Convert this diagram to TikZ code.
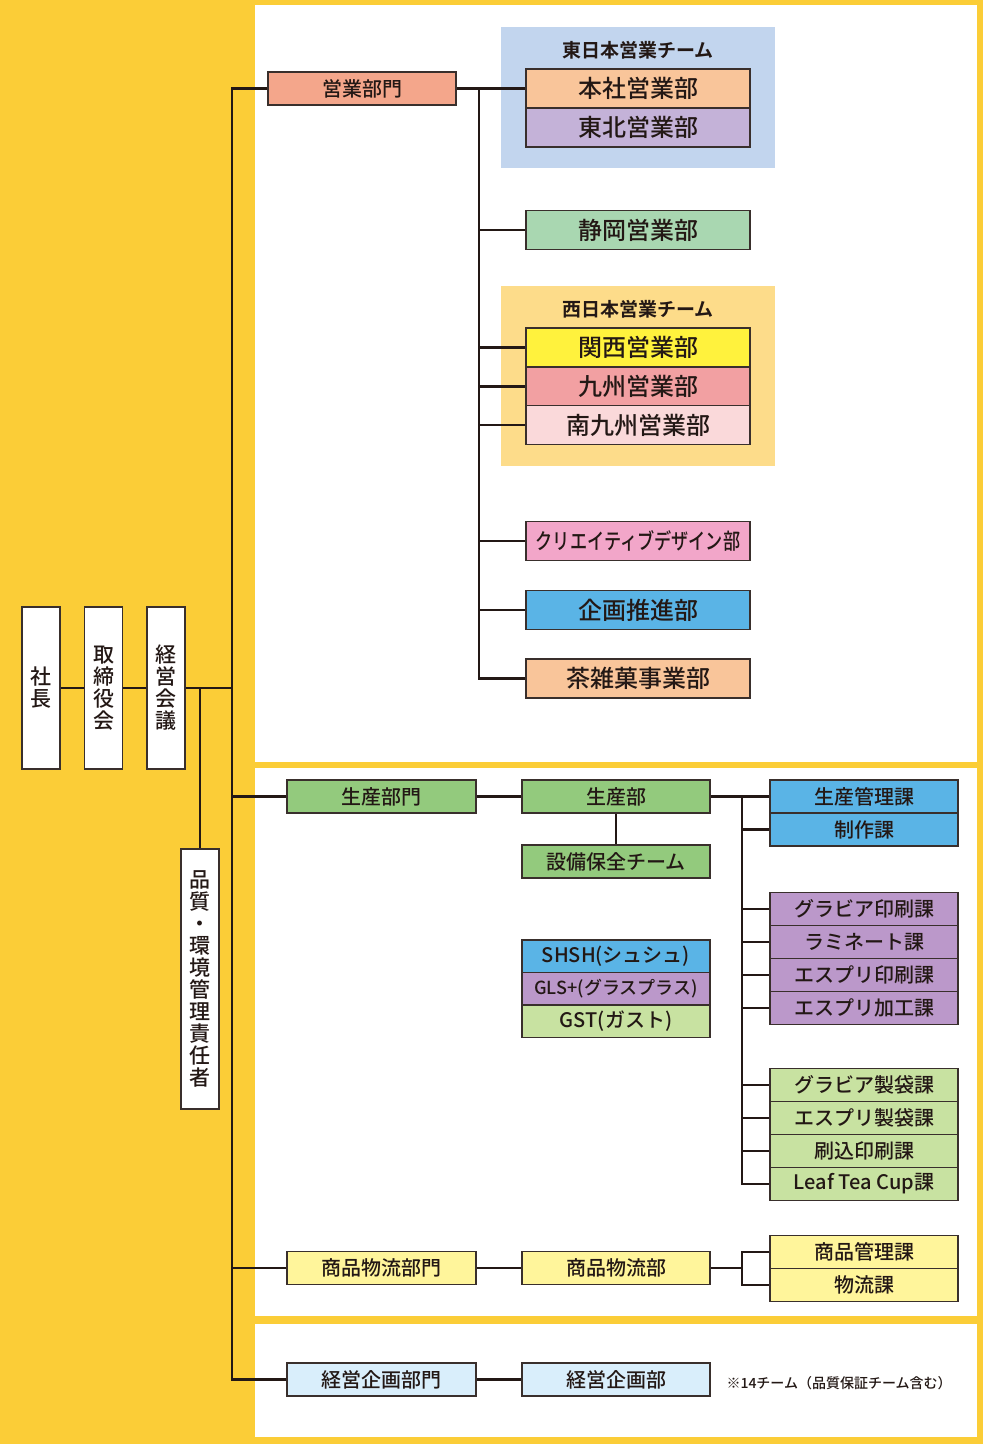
\documentclass[tikz,border=0pt]{standalone}
\usepackage{fontspec}
\setmainfont{Noto Sans CJK JP}[UprightFont={* Medium}, BoldFont={* Bold}]
\usepackage{graphicx}
\usetikzlibrary{calc}

\definecolor{bgyellow}{HTML}{FBCD37}
\definecolor{salmon}{HTML}{F4A68B}
\definecolor{peach}{HTML}{F9C59A}
\definecolor{lavender}{HTML}{C4B2D8}
\definecolor{eastbg}{HTML}{C2D5EE}
\definecolor{westbg}{HTML}{FDDC8A}
\definecolor{mint}{HTML}{A9D7B1}
\definecolor{lemon}{HTML}{FFF23D}
\definecolor{rose}{HTML}{F2A0A2}
\definecolor{palerose}{HTML}{FAD9DA}
\definecolor{pink}{HTML}{F2A6C9}
\definecolor{sky}{HTML}{5AB4E6}
\definecolor{leaf}{HTML}{93CA7D}
\definecolor{purple}{HTML}{BB98CA}
\definecolor{lightleaf}{HTML}{C8E2A1}
\definecolor{paleyellow}{HTML}{FFF59B}
\definecolor{paleblue}{HTML}{D9EEFB}
\definecolor{ink}{HTML}{231815}

\begin{document}
\begin{tikzpicture}[x=1pt,y=-1pt,
	box/.style={draw=ink!90, line width=1.5pt, inner sep=0pt, text=ink,
		minimum width=188, minimum height=33, font=\fontsize{20}{22}\selectfont},
	bigbox/.style={box, minimum width=224, minimum height=39, font=\fontsize{24}{26}\selectfont},
	tate/.style={box, fill=white, minimum width=38, align=center, font=\fontsize{21}{22}\selectfont},
	teamtitle/.style={font=\bfseries\fontsize{19}{21}\selectfont, text=ink},
	link/.style={draw=ink, line width=2.2pt}]
	\useasboundingbox (0,0) rectangle (983,1444);
	\fill[bgyellow] (0,0) rectangle (983,1444);
	\fill[white] (255,5) rectangle (977,762);
	\fill[white] (255,768) rectangle (977,1316);
	\fill[white] (255,1324) rectangle (977,1437);
	\fill[eastbg] (501,27) rectangle (775,168);
	\fill[westbg] (501,286) rectangle (775,466);
	\coordinate (tr) at (232,0);
	\coordinate (sb) at (479,0);
	\coordinate (pb) at (742,0);

	% left column
	\node[tate, minimum height=162] (shacho) at (41,688) {社\\長};
	\node[tate, minimum height=162] (torishimari) at (103.5,688) {取\\締\\役\\会};
	\node[tate, minimum height=162] (keiei) at (166,688) {経\\営\\会\\議};
	\node[tate, minimum height=260] (hinshitsu) at (200,979) {品\\質\\・\\環\\境\\管\\理\\責\\任\\者};

	% sales
	\node[box, fill=salmon] (eigyo) at (362,88.5) {営業部門};
	\node[teamtitle] (easttitle) at (638,50) {東日本営業チーム};
	\node[bigbox, fill=peach] (honsha) at (638,88.5) {本社営業部};
	\node[bigbox, fill=lavender] (tohoku) at (638,127.5) {東北営業部};
	\node[bigbox, fill=mint] (shizuoka) at (638,230) {静岡営業部};
	\node[teamtitle] (westtitle) at (638,309) {西日本営業チーム};
	\node[bigbox, fill=lemon] (kansai) at (638,347.5) {関西営業部};
	\node[bigbox, fill=rose] (kyushu) at (638,386.5) {九州営業部};
	\node[bigbox, fill=palerose] (minami) at (638,425) {南九州営業部};
	\node[bigbox, fill=pink, font=\fontsize{22}{24}\selectfont] (creative) at (638,541)
		{\scalebox{0.78}[1]{クリエイティブデザイン部}};
	\node[bigbox, fill=sky] (kikaku) at (638,610) {企画推進部};
	\node[bigbox, fill=peach] (chazakka) at (638,678.5) {茶雑菓事業部};

	% production
	\node[box, fill=leaf, minimum width=189] (seisanbumon) at (381.5,796.5) {生産部門};
	\node[box, fill=leaf] (seisanbu) at (616,796.5) {生産部};
	\node[box, fill=leaf] (setsubi) at (616,861.5) {設備保全チーム};
	\node[box, fill=sky, minimum height=32.5] (shsh) at (616,956) {SHSH(シュシュ)};
	\node[box, fill=purple, minimum height=32.5, font=\fontsize{18}{20}\selectfont] (gls) at (616,988.5) {GLS+(グラスプラス)};
	\node[box, fill=lightleaf, minimum height=32.5] (gst) at (616,1021) {GST(ガスト)};
	\node[box, fill=sky] (kanri) at (864,796.5) {生産管理課};
	\node[box, fill=sky] (seisaku) at (864,829.5) {制作課};
	\node[box, fill=purple] (gravure) at (864,909) {グラビア印刷課};
	\node[box, fill=purple] (laminate) at (864,942) {ラミネート課};
	\node[box, fill=purple] (esprint) at (864,975) {エスプリ印刷課};
	\node[box, fill=purple] (kako) at (864,1008) {エスプリ加工課};
	\node[box, fill=lightleaf] (gseitai) at (864,1085) {グラビア製袋課};
	\node[box, fill=lightleaf] (eseitai) at (864,1118) {エスプリ製袋課};
	\node[box, fill=lightleaf] (surikomi) at (864,1151) {刷込印刷課};
	\node[box, fill=lightleaf] (leafcup) at (864,1184) {Leaf Tea Cup課};

	% logistics and planning
	\node[box, fill=paleyellow, minimum width=189] (shohinbumon) at (381.5,1268) {商品物流部門};
	\node[box, fill=paleyellow] (shohinbu) at (616,1268) {商品物流部};
	\node[box, fill=paleyellow] (shkanri) at (864,1252) {商品管理課};
	\node[box, fill=paleyellow] (butsuryu) at (864,1285) {物流課};
	\node[box, fill=paleblue, minimum width=189] (kkbumon) at (381.5,1379.5) {経営企画部門};
	\node[box, fill=paleblue] (kkbu) at (616,1379.5) {経営企画部};
	\node[anchor=west, text=ink, font=\fontsize{14}{16}\selectfont] (note) at (723,1383)
		{※14チーム（品質保証チーム含む）};

	% connectors
	\draw[link] (shacho) -- (torishimari);
	\draw[link] (torishimari) -- (keiei);
	\draw[link] (keiei.east) -- (keiei.east -| tr);
	\draw[link] (hinshitsu.north) -- (hinshitsu.north |- keiei.east);
	\draw[link] (eigyo.west) -| (tr |- kkbumon.west) -- (kkbumon.west);
	\draw[link] (seisanbumon.west) -- (seisanbumon.west -| tr);
	\draw[link] (shohinbumon.west) -- (shohinbumon.west -| tr);

	\draw[link] (eigyo.east) -- (honsha.west);
	\draw[link] (eigyo.east -| sb) |- (chazakka.west);
	\foreach \n in {shizuoka,kansai,kyushu,minami,creative,kikaku}
		\draw[link] (\n.west -| sb) -- (\n.west);

	\draw[link] (seisanbumon) -- (seisanbu);
	\draw[link] (seisanbu) -- (setsubi);
	\draw[link] (seisanbu) -- (kanri);
	\draw[link] (seisanbu.east -| pb) |- (leafcup.west);
	\foreach \n in {seisaku,gravure,laminate,esprint,kako,gseitai,eseitai,surikomi}
		\draw[link] (\n.west -| pb) -- (\n.west);

	\draw[link] (shohinbumon) -- (shohinbu);
	\draw[link] (shohinbu.east) -- (shohinbu.east -| pb);
	\draw[link] (shkanri.west) -| (butsuryu.west -| pb) -- (butsuryu.west);
	\draw[link] (kkbumon) -- (kkbu);
\end{tikzpicture}
\end{document}
